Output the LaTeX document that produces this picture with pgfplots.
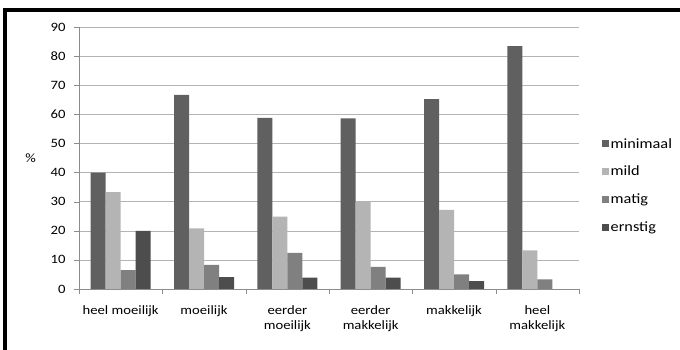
\documentclass[border=0pt]{standalone}
\usepackage{pgfplots}
\pgfplotsset{compat=1.18}
\usepackage{fontspec}
\setmainfont{Carlito}[FakeStretch=1.15]

\definecolor{cMin}{RGB}{96,96,96}
\definecolor{cMild}{RGB}{180,180,180}
\definecolor{cMatig}{RGB}{128,128,128}
\definecolor{cErn}{RGB}{77,77,77}
\definecolor{gridgray}{RGB}{180,180,180}
\definecolor{axgray}{RGB}{140,140,140}

\begin{document}
\begin{tikzpicture}
\useasboundingbox (0,0) rectangle (680bp,350bp);
\fill[white] (0,0) rectangle (680bp,350bp);
% frame edges
\fill[black] (3bp,338bp) rectangle (680bp,342bp);
\fill[black] (3bp,0bp) rectangle (7bp,342bp);
\begin{axis}[
  at={(79bp,61bp)}, anchor=south west,
  scale only axis, width=500bp, height=262bp,
  ybar=0pt, bar width=15bp,
  xmin=-0.5, xmax=5.5, ymin=0, ymax=90,
  ytick={0,10,...,90},
  xtick={-0.5,0.5,...,5.5},
  x tick label as interval,
  xticklabels={heel moeilijk, moeilijk, eerder\\moeilijk, eerder\\makkelijk, makkelijk, heel\\makkelijk},
  xticklabel style={align=center, font=\fontsize{12.8}{15}\selectfont, yshift=-8.5bp},
  yticklabel style={font=\fontsize{12.8}{14}\selectfont, xshift=-5bp},
  /pgf/number format/assume math mode=true,
  separate axis lines,
  axis x line*=bottom, axis y line*=left,
  axis line style={draw=axgray, -},
  tick style={draw=axgray},
  major tick length=5bp, tick align=outside,
  ymajorgrids, major grid style={draw=gridgray},
  ylabel={\%},
  ylabel style={rotate=-90, at={(axis description cs:-0.097,0.5)}, anchor=center, font=\fontsize{12.8}{14}\selectfont},
  legend image code/.code={\fill[#1] (0bp,-3.5bp) rectangle (7bp,3.5bp);},
  legend style={at={(1.04,0.395)}, anchor=west, draw=none, fill=none,
    font=\fontsize{14.2}{15}\selectfont, row sep=12.5bp, nodes={inner xsep=1.5bp}},
  legend cell align=left,
]
\addplot[fill=cMin, draw=none] coordinates {(0,40) (1,66.7) (2,58.8) (3,58.6) (4,65.2) (5,83.4)};
\addplot[fill=cMild, draw=none] coordinates {(0,33.3) (1,20.8) (2,24.9) (3,30.0) (4,27.2) (5,13.3)};
\addplot[fill=cMatig, draw=none] coordinates {(0,6.5) (1,8.3) (2,12.4) (3,7.6) (4,5.0) (5,3.3)};
\addplot[fill=cErn, draw=none] coordinates {(0,20) (1,4.1) (2,3.9) (3,3.9) (4,2.7) (5,0)};
\legend{minimaal, mild, matig, ernstig}
\end{axis}
\end{tikzpicture}
\end{document}
